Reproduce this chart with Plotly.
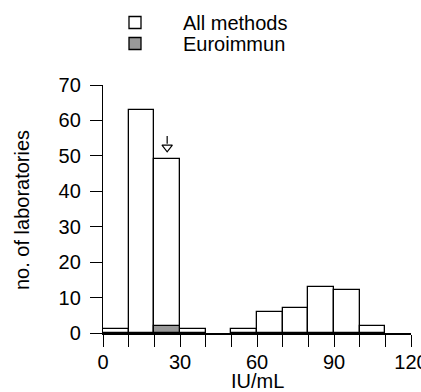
import plotly.graph_objects as go

# ---- data ----
bin_centers = [5, 15, 25, 35, 45, 55, 65, 75, 85, 95, 105]
all_methods = [1, 63, 49, 1, 0, 1, 6, 7, 13, 12, 2]
euroimmun = [0, 0, 2, 0, 0, 0, 0, 0, 0, 0, 0]
series_names = ["All methods", "Euroimmun"]
series_colors = ["#ffffff", "#999999"]
x_tickvals = list(range(0, 121, 10))
x_ticklabels = ["0", "", "", "30", "", "", "60", "", "", "90", "", "", "120"]
y_tickvals = [0, 10, 20, 30, 40, 50, 60, 70]
arrow_x = 25
arrow_top = 55.6
arrow_head = 52.4

FONT = "Liberation Sans, Arial, sans-serif"
FS = 20
W, H = 421, 392
L, R, T, B = 103, 10, 85, 59
pw, ph = W - L - R, H - T - B

def px2paper_x(px):
    return (px - L) / pw

def px2paper_y(py):
    return (H - B - py) / ph

def nz(vals):
    return [v if v else None for v in vals]

fig = go.Figure()
fig.add_trace(go.Bar(x=bin_centers, y=nz(all_methods), width=10,
                     marker=dict(color=series_colors[0], line=dict(color="black", width=1.3)),
                     showlegend=False))
fig.add_trace(go.Bar(x=bin_centers, y=nz(euroimmun), width=10,
                     marker=dict(color=series_colors[1], line=dict(color="black", width=1.3)),
                     showlegend=False))
# arrow
fig.add_trace(go.Scatter(x=[arrow_x, arrow_x], y=[arrow_top, arrow_head + 1.0], mode="lines",
                         line=dict(color="black", width=1.2), showlegend=False, hoverinfo="skip"))
fig.add_trace(go.Scatter(x=[arrow_x], y=[arrow_head], mode="markers",
                         marker=dict(symbol="triangle-down", size=9, color="white",
                                     line=dict(color="black", width=1.2)),
                         showlegend=False, hoverinfo="skip"))

shapes = []
annotations = []
legend_rows = [22.5, 43.5]
for name, col, yc in zip(series_names, series_colors, legend_rows):
    shapes.append(dict(type="rect", xref="paper", yref="paper",
                       x0=px2paper_x(129), x1=px2paper_x(141),
                       y0=px2paper_y(yc - 6), y1=px2paper_y(yc + 6),
                       fillcolor=col, line=dict(color="black", width=1.3)))
    annotations.append(dict(text=name, xref="paper", yref="paper",
                            x=px2paper_x(181), y=px2paper_y(yc), xanchor="left", yanchor="middle",
                            showarrow=False, font=dict(family=FONT, size=FS, color="black")))

annotations.append(dict(text="IU/mL", xref="paper", yref="paper", x=0.5, y=px2paper_y(381),
                        xanchor="center", yanchor="middle", showarrow=False,
                        font=dict(family=FONT, size=FS, color="black")))
annotations.append(dict(text="no. of laboratories", xref="paper", yref="paper",
                        x=px2paper_x(22), y=px2paper_y(210), textangle=-90,
                        xanchor="center", yanchor="middle", showarrow=False,
                        font=dict(family=FONT, size=FS, color="black")))

fig.update_layout(
    width=W, height=H,
    margin=dict(l=L, r=R, t=T, b=B, pad=0, autoexpand=False),
    plot_bgcolor="white", paper_bgcolor="white",
    barmode="overlay", bargap=0,
    shapes=shapes, annotations=annotations,
    font=dict(family=FONT, size=FS, color="black"),
    xaxis=dict(range=[0, 120], tickmode="array", tickvals=x_tickvals, ticktext=x_ticklabels,
               ticks="outside", ticklen=12, tickwidth=1.2, tickcolor="black",
               showline=True, linecolor="black", linewidth=2, showgrid=False, zeroline=False,
               automargin=False, ticklabelstandoff=-2, ticklabeloverflow="allow",
               tickfont=dict(family=FONT, size=FS, color="black")),
    yaxis=dict(range=[0, 70], tickmode="array", tickvals=y_tickvals,
               ticks="outside", ticklen=12, tickwidth=1.2, tickcolor="black",
               showline=True, linecolor="black", linewidth=1.3, showgrid=False, zeroline=False,
               automargin=False, ticklabelstandoff=5,
               tickfont=dict(family=FONT, size=FS, color="black")),
)

fig.write_html("out.html")
